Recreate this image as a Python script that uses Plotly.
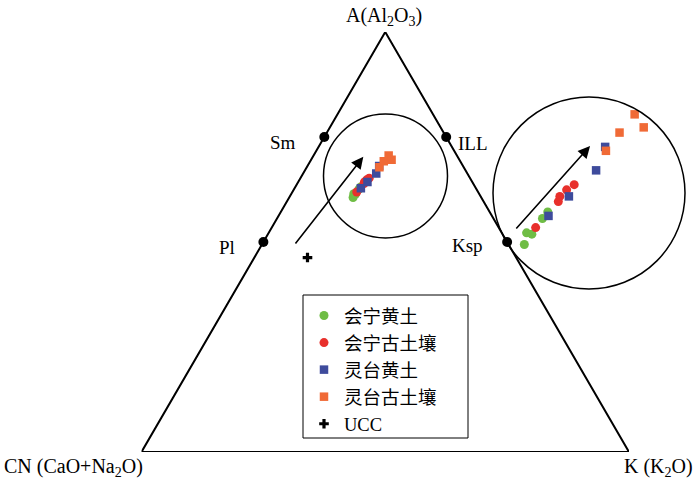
import numpy as np
import plotly.graph_objects as go

# ---------------- data (molar %, A = Al2O3, K = K2O, CN = 100 - A - K) -------------
series_names = ["会宁黄土", "会宁古土壤", "灵台黄土", "灵台古土壤"]
hn_loess_A = [60.6, 61.5, 61.4, 62.6, 63.1]
hn_loess_K = [13.1, 12.8, 13.2, 13.3, 13.4]
hn_paleo_A = [61.9, 63.9, 64.3, 64.8, 65.2]
hn_paleo_K = [13.2, 13.7, 13.6, 13.8, 14.1]
lt_loess_A = [62.8, 64.3, 66.3, 68.1]
lt_loess_K = [13.6, 14.2, 15.0, 14.7]
lt_paleo_A = [67.8, 69.2, 70.6, 69.6]
lt_paleo_K = [14.9, 15.1, 15.4, 16.5]
ucc_A = [46.3]
ucc_K = [10.9]
mineral_names = ["Sm", "ILL", "Pl", "Ksp"]
mineral_A = [75, 75, 50, 50]
mineral_K = [0, 25, 0, 50]

# ---------------- styles / layout constants ----------------
W, H = 700, 484
colors = ["#6fbd45", "#e8302c", "#3e4b9c", "#f06a36"]
symbols = ["circle", "circle", "square", "square"]
SERIF = "Liberation Serif, Times New Roman, serif"
CJK = "Liberation Serif, Noto Sans CJK SC, serif"

# triangle pixel geometry
LX, RX, BY, TY = 141.5, 629.0, 452.0, 32.0
S3 = np.sqrt(3) / 2


def tern(A, K):
    A = np.asarray(A, float) / 100.0
    K = np.asarray(K, float) / 100.0
    return K + A / 2.0, A * S3


def px(x):
    return x / W


def py(y):
    return (H - y) / H


# inset (magnified window) parameters
MAG = 3.1
inset_cx, inset_cy = 0.4768, 0.5591
ins_px = (493, 685, 97, 289)  # left, right, top, bottom in pixels
sx_main = (RX - LX)  # px per x unit
sy_main = (BY - TY) / S3  # px per y unit
half_w = (ins_px[1] - ins_px[0]) / 2 / (sx_main * MAG)
half_h = (ins_px[3] - ins_px[2]) / 2 / (sy_main * MAG)

fig = go.Figure()

# triangle
tx, ty = tern([100, 0, 0, 100], [0, 100, 0, 0])
fig.add_trace(go.Scatter(x=tx, y=ty, mode="lines", line=dict(color="black", width=2),
                         hoverinfo="skip", showlegend=False))

# mineral points
mx, my = tern(mineral_A, mineral_K)
fig.add_trace(go.Scatter(x=mx, y=my, mode="markers",
                         marker=dict(color="black", size=10), showlegend=False,
                         cliponaxis=False))

series_A = [hn_loess_A, hn_paleo_A, lt_loess_A, lt_paleo_A]
series_K = [hn_loess_K, hn_paleo_K, lt_loess_K, lt_paleo_K]

# main cluster
for name, A, K, c, s in zip(series_names, series_A, series_K, colors, symbols):
    x, y = tern(A, K)
    fig.add_trace(go.Scatter(x=x, y=y, mode="markers", name=name,
                             marker=dict(color=c, size=9 if s == "circle" else 8.5, symbol=s),
                             showlegend=True))

# UCC
ux, uy = tern(ucc_A, ucc_K)
fig.add_trace(go.Scatter(x=ux, y=uy, mode="markers", name="UCC",
                         marker=dict(color="black", size=8, symbol="cross")))

# inset (magnified)
for name, A, K, c, s in zip(series_names, series_A, series_K, colors, symbols):
    x, y = tern(A, K)
    fig.add_trace(go.Scatter(x=x, y=y, mode="markers", name=name, xaxis="x2", yaxis="y2",
                             marker=dict(color=c, size=9 if s == "circle" else 8.5, symbol=s),
                             showlegend=False))

fig.update_layout(
    width=W, height=H,
    margin=dict(l=0, r=0, t=0, b=0),
    paper_bgcolor="white", plot_bgcolor="rgba(0,0,0,0)",
    xaxis=dict(domain=[px(LX), px(RX)], range=[0, 1], visible=False),
    yaxis=dict(domain=[py(BY), py(TY)], range=[0, S3], visible=False),
    xaxis2=dict(domain=[px(ins_px[0]), px(ins_px[1])],
                range=[inset_cx - half_w, inset_cx + half_w], visible=False, anchor="y2"),
    yaxis2=dict(domain=[py(ins_px[3]), py(ins_px[2])],
                range=[inset_cy - half_h, inset_cy + half_h], visible=False, anchor="x2"),
    legend=dict(x=px(304), y=py(297), xanchor="left", yanchor="top",
                borderwidth=0, bgcolor="rgba(255,255,255,0)",
                font=dict(family=CJK, size=18.5, color="black"),
                tracegroupgap=0, itemsizing="trace"),
    showlegend=True,
)

# legend frame
fig.add_shape(type="rect", xref="paper", yref="paper",
              x0=px(303), x1=px(468), y0=py(438), y1=py(295),
              line=dict(color="black", width=1), layer="below")

# circles
fig.add_shape(type="circle", xref="paper", yref="paper",
              x0=px(385.5 - 62), x1=px(385.5 + 62), y0=py(176 + 62), y1=py(176 - 62),
              line=dict(color="black", width=1.5))
fig.add_shape(type="circle", xref="paper", yref="paper",
              x0=px(ins_px[0]), x1=px(ins_px[1]), y0=py(ins_px[3]), y1=py(ins_px[2]),
              line=dict(color="black", width=1.5))

# arrows (weathering trend)
fig.add_annotation(x=0.4550, y=0.6089, ax=0.3134, ay=0.4268, xref="x", yref="y",
                   axref="x", ayref="y", showarrow=True, arrowhead=2, arrowsize=1.5,
                   arrowwidth=1.6, arrowcolor="black", text="")
fig.add_annotation(x=0.4775, y=0.5904, ax=0.4278, ay=0.5345, xref="x2", yref="y2",
                   axref="x2", ayref="y2", showarrow=True, arrowhead=2, arrowsize=1.5,
                   arrowwidth=1.6, arrowcolor="black", text="")

# vertex labels
lab_font = dict(family=SERIF, size=19, color="black")
big_font = dict(family=SERIF, size=20, color="black")
fig.add_annotation(x=px(383.5), y=py(16), xref="paper", yref="paper", showarrow=False,
                   text="A(Al<sub>2</sub>O<sub>3</sub>)", font=big_font,
                   xanchor="center", yanchor="middle")
fig.add_annotation(x=px(2), y=py(467), xref="paper", yref="paper", showarrow=False,
                   text="CN (CaO+Na<sub>2</sub>O)", font=big_font,
                   xanchor="left", yanchor="middle")
fig.add_annotation(x=px(622), y=py(467), xref="paper", yref="paper", showarrow=False,
                   text="K (K<sub>2</sub>O)", font=big_font,
                   xanchor="left", yanchor="middle")

# mineral labels
offsets = {"Sm": ("right", -26, -5), "ILL": ("left", 10, -6),
           "Pl": ("right", -26, -5), "Ksp": ("right", -22, -3)}
for name, x, y in zip(mineral_names, mx, my):
    anc, dx, dy = offsets[name]
    fig.add_annotation(x=x, y=y, xref="x", yref="y", text=name, showarrow=False,
                       xanchor=anc, yanchor="middle", xshift=dx, yshift=dy, font=lab_font)

fig.write_html("out.html", config={"displayModeBar": False},
               post_script="document.body.style.margin='0';document.body.style.overflow='hidden';")
